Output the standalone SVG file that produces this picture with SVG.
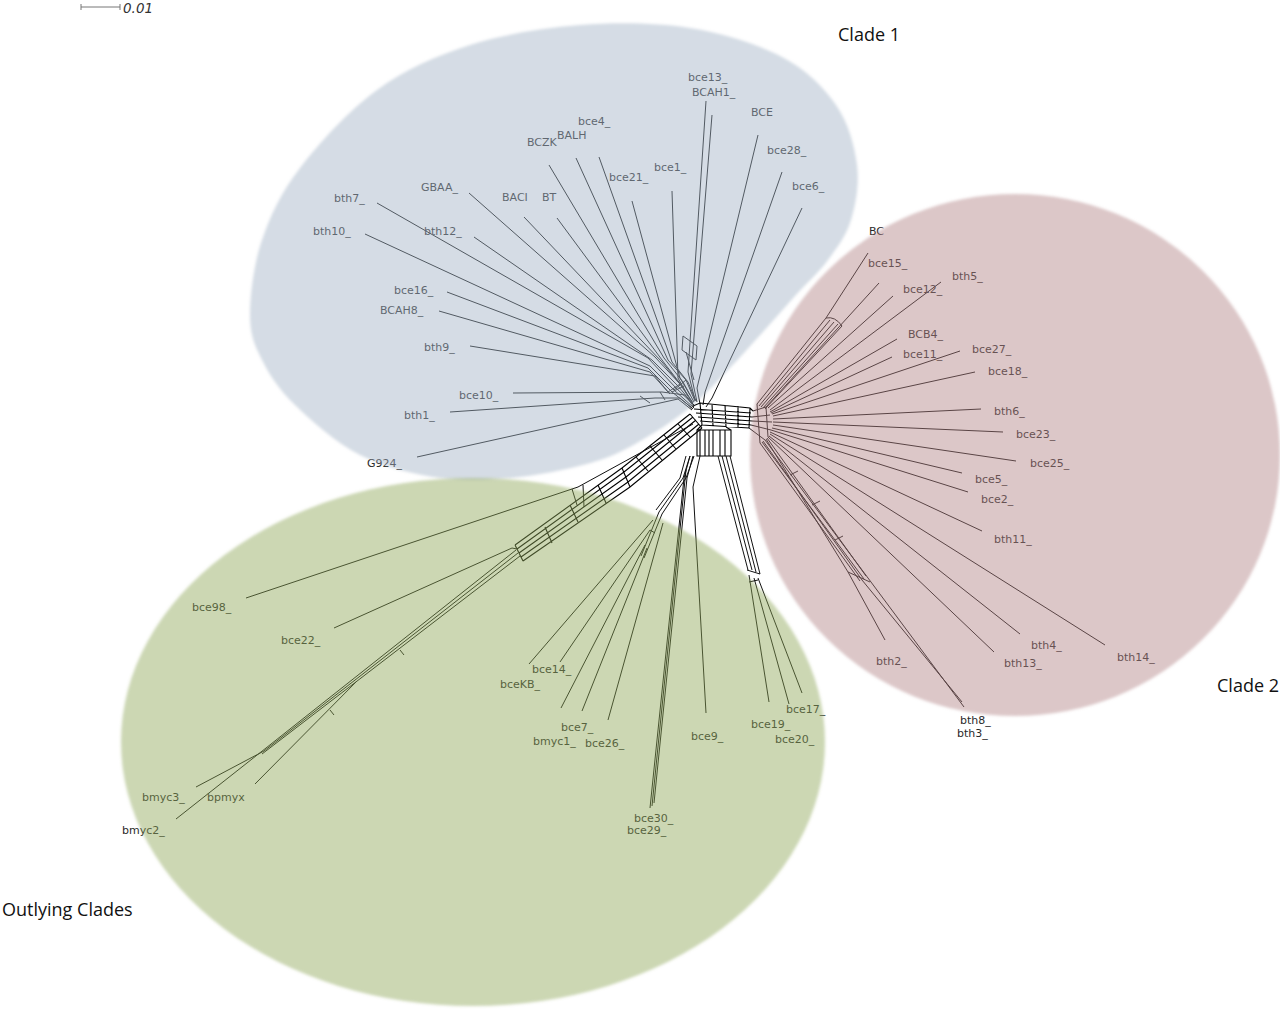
<svg xmlns="http://www.w3.org/2000/svg" width="1280" height="1018" viewBox="0 0 1280 1018">
<style>
.ln{fill:none;stroke:#111;stroke-width:1;stroke-linejoin:round}
.hb{fill:none;stroke:#000;stroke-width:1.1}
.lb{font-family:"DejaVu Sans","Liberation Sans",sans-serif;font-size:11px;fill:#2a2a2a}
.ttl{font-family:"Open Sans","Liberation Sans",sans-serif;font-size:18px;fill:#111}
.ov{filter:url(#soft)}
</style>
<defs>
<filter id="soft" x="-5%" y="-5%" width="110%" height="110%"><feGaussianBlur stdDeviation="1.5"/></filter>
</defs>
<rect x="0" y="0" width="1280" height="1018" fill="#fff"/>

<g id="connectors">
<!-- central hub -->
<path class="hb" d="M693,406 L700,403 L750,408 L753,411 M694,409 L751,413 M696,413 L752,417 M698,417 L752,421 M700,421 L751,425 M702,425 L749,428 M700,403 L702,425 M712,404 L713,426 M725,405 L726,427 M738,406 L738,427 M750,408 L749,428"/>
<path class="hb" d="M697,430 L697,456 L731,456 L731,430 Z M700,430 L700,456 M705,430 L705,456 M709,430 L709,456 M713,430 L713,456 M720,430 L720,456 M725,430 L725,456 M702,425 L697,430 M726,427 L731,430"/>
<path class="hb" d="M690,414 L622,468 L515,545 M693,417 L624,472 L517,549 M696,420 L626,477 L519,553 M699,424 L628,482 L521,557 M702,428 L630,487 L523,561 M690,414 L702,428 M678,424 L690,437 M664,435 L676,449 M650,446 L662,460 M636,457 L648,471 M622,468 L630,487 M598,485 L606,503 M570,505 L578,522 M545,527 L552,543 M515,545 L523,561"/>
<!-- clade 1 leaves -->
<path class="ln" d="M377,203 L648,358 M365,234 L650,366 M474,237 L652,360 M469,193 L655,357 M447,292 L648,368 M439,311 L650,372 M470,346 L655,376 M524,217 L662,362 M557,218 L665,364 M549,165 L664,358 M576,158 L668,360 M599,157 L672,362 M632,201 L680,378 M672,191 L678,378 M706,101 L688,372 M712,115 L691,374 M758,135 L697,388 M782,172 L705,392 M802,208 L712,398 M513,393 L662,392 M450,412 L655,398 M417,457 L678,399"/>
<path class="ln" d="M648,358 L676,388 L694,405 M650,366 L674,390 L694,408 M652,360 L678,386 L693,404 M655,357 L680,384 M648,368 L672,392 L692,408 M650,372 L670,394 M655,376 L668,392 M668,392 L680,384 M672,392 L684,386 M674,390 L686,380 M662,362 L680,384 M665,364 L682,386 M664,358 L683,382 M668,360 L686,380 M672,362 L688,382 M680,384 L692,402 M682,386 L693,403 M683,382 L694,402 M686,380 L695,401 M688,382 L696,401 M680,378 L690,395 M678,378 L688,396 M688,372 L695,400 M691,374 L697,402 M697,388 L700,404 M705,392 L703,405 M712,398 L706,407 M662,392 L685,395 L694,407 M655,398 L680,398 L693,409 M678,399 L692,410 M683,336 L697,346 L696,360 L682,350 Z M686,352 L694,380 M640,396 L650,403 M660,392 L665,400"/>
<!-- clade 2 leaves -->
<path class="ln" d="M868,253 L826,318 M826,318 L757,404 M830,320 L759,406 M834,322 L761,407 M838,324 L763,408 M842,326 L765,409 M826,318 Q835,316 842,326 M879,283 L766,407 M893,296 L768,408 M941,282 L770,410 M897,339 L770,412 M892,357 L771,413 M960,351 L772,414 M975,372 L773,416 M981,409 L773,419 M1003,432 L773,422 M1016,461 L773,425 M962,473 L772,428 M968,492 L771,430 M982,531 L770,432 M1105,645 L770,434 M1020,634 L769,436 M994,652 L768,437 M885,640 L848,572 L766,439 M848,572 L870,582 M964,707 L868,578 L765,440 M962,702 L862,580 L763,441 M866,576 L767,438 M864,579 L762,442 M860,581 L760,443 M790,475 L798,471 M812,505 L820,501 M835,540 L843,536"/>
<path class="ln" d="M753,411 L766,407 M752,417 L770,415 M752,421 L772,422 M751,425 L771,430 M749,428 L765,440 M757,404 L760,443 M766,407 L768,437"/>
<!-- outlying leaves -->
<path class="ln" d="M246,598 L578,487 L693,424 M572,489 L577,505 M583,485 L584,507 M334,628 L512,548 L517,549 M516,550 L266,748 M518,553 L264,751 M520,556 L262,754 M400,650 L404,655 M330,710 L334,715 M196,787 L264,751 M176,819 L266,748 M255,784 L357,681"/>
<path class="ln" d="M690,456 L683,478 L659,512 M694,456 L686,478 L662,514 M686,456 L680,478 L656,510 M659,512 L641,556 M662,514 L644,558 M650,530 L655,533 M529,664 L653,520 M560,662 L650,530 M561,708 L645,545 M582,711 L647,548 M608,720 L663,523 M650,808 L684,478 L690,456 M654,803 L687,478 L693,456 M652,806 L686,470 M706,713 L693,487 L700,456"/>
<path class="ln" d="M718,456 L748,570 M722,456 L752,570 M726,456 L756,572 M730,456 L760,574 M747,570 L760,574 M749,582 L758,580 M769,702 L749,575 M789,704 L754,578 M802,693 L758,578"/>
</g>

<g id="nodes">
<g id="n-bce13"><text class="lb" x="688" y="81">bce13_</text></g>
<g id="n-BCAH1"><text class="lb" x="692" y="96">BCAH1_</text></g>
<g id="n-BCE"><text class="lb" x="751" y="116">BCE</text></g>
<g id="n-bce4"><text class="lb" x="578" y="125">bce4_</text></g>
<g id="n-BALH"><text class="lb" x="557" y="139">BALH</text></g>
<g id="n-BCZK"><text class="lb" x="527" y="146">BCZK</text></g>
<g id="n-bce28"><text class="lb" x="767" y="154">bce28_</text></g>
<g id="n-bce1"><text class="lb" x="654" y="171">bce1_</text></g>
<g id="n-bce21"><text class="lb" x="609" y="181">bce21_</text></g>
<g id="n-bce6"><text class="lb" x="792" y="190">bce6_</text></g>
<g id="n-GBAA"><text class="lb" x="421" y="191">GBAA_</text></g>
<g id="n-BACI"><text class="lb" x="502" y="201">BACI</text></g>
<g id="n-BT"><text class="lb" x="542" y="201">BT</text></g>
<g id="n-bth7"><text class="lb" x="334" y="202">bth7_</text></g>
<g id="n-bth10"><text class="lb" x="313" y="235">bth10_</text></g>
<g id="n-bth12"><text class="lb" x="424" y="235">bth12_</text></g>
<g id="n-bce16"><text class="lb" x="394" y="294">bce16_</text></g>
<g id="n-BCAH8"><text class="lb" x="380" y="314">BCAH8_</text></g>
<g id="n-bth9"><text class="lb" x="424" y="351">bth9_</text></g>
<g id="n-bce10"><text class="lb" x="459" y="399">bce10_</text></g>
<g id="n-bth1"><text class="lb" x="404" y="419">bth1_</text></g>
<g id="n-G924"><text class="lb" x="367" y="467">G924_</text></g>

<g id="n-BC"><text class="lb" x="869" y="235">BC</text></g>
<g id="n-bce15"><text class="lb" x="868" y="267">bce15_</text></g>
<g id="n-bth5"><text class="lb" x="952" y="280">bth5_</text></g>
<g id="n-bce12"><text class="lb" x="903" y="293">bce12_</text></g>
<g id="n-BCB4"><text class="lb" x="908" y="338">BCB4_</text></g>
<g id="n-bce27"><text class="lb" x="972" y="353">bce27_</text></g>
<g id="n-bce11"><text class="lb" x="903" y="358">bce11_</text></g>
<g id="n-bce18"><text class="lb" x="988" y="375">bce18_</text></g>
<g id="n-bth6"><text class="lb" x="994" y="415">bth6_</text></g>
<g id="n-bce23"><text class="lb" x="1016" y="438">bce23_</text></g>
<g id="n-bce25"><text class="lb" x="1030" y="467">bce25_</text></g>
<g id="n-bce5"><text class="lb" x="975" y="483">bce5_</text></g>
<g id="n-bce2"><text class="lb" x="981" y="503">bce2_</text></g>
<g id="n-bth11"><text class="lb" x="994" y="543">bth11_</text></g>
<g id="n-bth4"><text class="lb" x="1031" y="649">bth4_</text></g>
<g id="n-bth14"><text class="lb" x="1117" y="661">bth14_</text></g>
<g id="n-bth2"><text class="lb" x="876" y="665">bth2_</text></g>
<g id="n-bth13"><text class="lb" x="1004" y="667">bth13_</text></g>
<g id="n-bth8"><text class="lb" x="960" y="724">bth8_</text></g>
<g id="n-bth3"><text class="lb" x="957" y="737">bth3_</text></g>

<g id="n-bce98"><text class="lb" x="192" y="611">bce98_</text></g>
<g id="n-bce22"><text class="lb" x="281" y="644">bce22_</text></g>
<g id="n-bce14"><text class="lb" x="532" y="673">bce14_</text></g>
<g id="n-bceKB"><text class="lb" x="500" y="688">bceKB_</text></g>
<g id="n-bce17"><text class="lb" x="786" y="713">bce17_</text></g>
<g id="n-bce19"><text class="lb" x="751" y="728">bce19_</text></g>
<g id="n-bce7"><text class="lb" x="561" y="731">bce7_</text></g>
<g id="n-bce9"><text class="lb" x="691" y="740">bce9_</text></g>
<g id="n-bce20"><text class="lb" x="775" y="743">bce20_</text></g>
<g id="n-bmyc1"><text class="lb" x="533" y="745">bmyc1_</text></g>
<g id="n-bce26"><text class="lb" x="585" y="747">bce26_</text></g>
<g id="n-bmyc3"><text class="lb" x="142" y="801">bmyc3_</text></g>
<g id="n-bpmyx"><text class="lb" x="207" y="801">bpmyx</text></g>
<g id="n-bce30"><text class="lb" x="634" y="822">bce30_</text></g>
<g id="n-bmyc2"><text class="lb" x="122" y="834">bmyc2_</text></g>
<g id="n-bce29"><text class="lb" x="627" y="834">bce29_</text></g>
</g>

<g id="clades">
<g id="clade1"><path class="ov" fill="#a2b1c5" fill-opacity="0.45" d="M250,315 C250,295 253.7,264.5 262,240 C270.3,215.5 280.8,193 300,168 C319.2,143 348.7,110.5 377,90 C405.3,69.5 436.2,55.8 470,45 C503.8,34.2 543.3,27.8 580,25 C616.7,22.2 656.3,22.7 690,28 C723.7,33.3 757.7,44.2 782,57 C806.3,69.8 823.5,87 836,105 C848.5,123 854.5,145.8 857,165 C859.5,184.2 855.8,204.2 851,220 C846.2,235.8 837.3,247.3 828,260 C818.7,272.7 806,283.8 795,296 C784,308.2 773.2,320.7 762,333 C750.8,345.3 739.3,358.2 728,370 C716.7,381.8 706.7,393.3 694,404 C681.3,414.7 667.7,424.7 652,434 C636.3,443.3 622,452.8 600,460 C578,467.2 546.7,474 520,477 C493.3,480 466.7,481.7 440,478 C413.3,474.3 384.2,467.2 360,455 C335.8,442.8 311.3,420.8 295,405 C278.7,389.2 269.5,375 262,360 C254.5,345 250,335 250,315 Z"/></g>
<g id="clade2"><ellipse class="ov" cx="1015" cy="455" rx="265" ry="261" fill="#b18385" fill-opacity="0.45"/></g>
<g id="outlying"><ellipse class="ov" cx="473" cy="742" rx="352" ry="264" fill="#8ea658" fill-opacity="0.45"/></g>
</g>

<g id="titles">
<text class="ttl" x="838" y="41">Clade 1</text>
<text class="ttl" x="1217" y="692">Clade 2</text>
<text class="ttl" x="2" y="916">Outlying Clades</text>
</g>

<g id="scalebar">
<path d="M81,7 L120,7 M81,4 L81,10 M120,4 L120,10" fill="none" stroke="#777" stroke-width="1"/>
<text x="123" y="13" font-family="DejaVu Sans, sans-serif" font-size="13.5" font-style="italic" fill="#333">0.01</text>
</g>
</svg>
